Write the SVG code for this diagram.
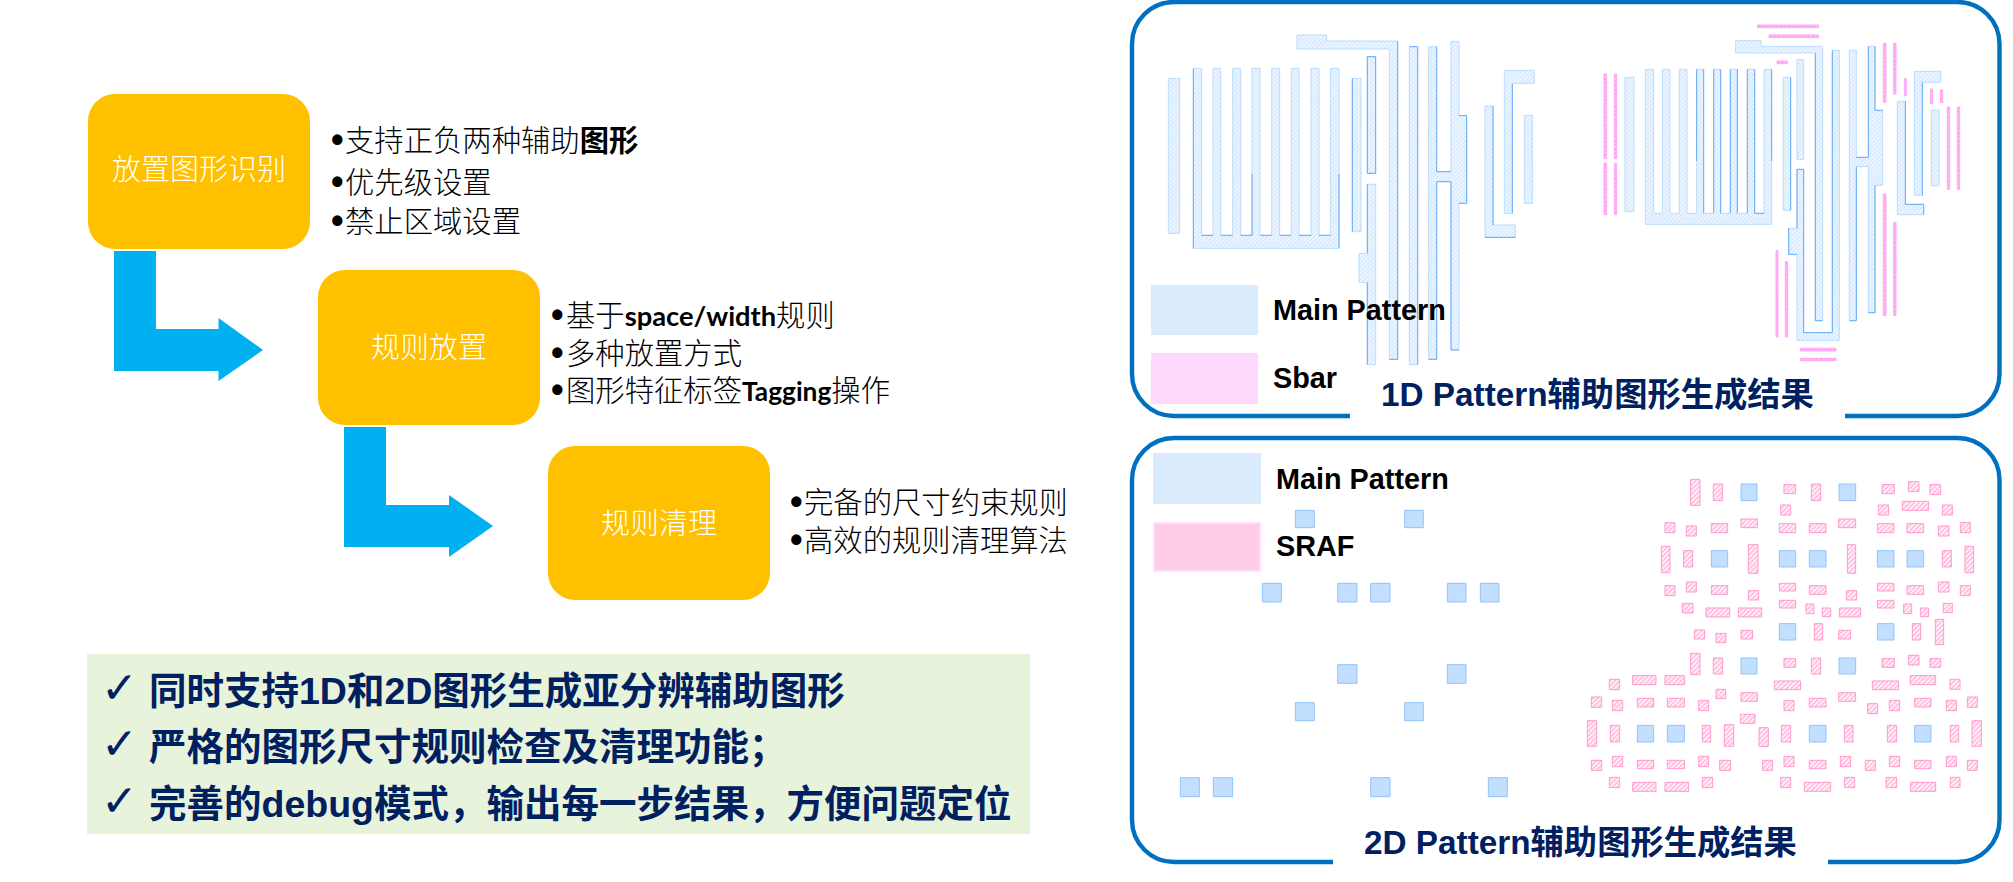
<svg xmlns="http://www.w3.org/2000/svg" width="2013" height="882" viewBox="0 0 2013 882">
<style>
.box{fill:#FFC000}
.lbl{font:300 29px "Noto Sans CJK SC","Noto Sans",sans-serif;fill:#fff;text-anchor:middle}
.li{font:300 29.33px "Noto Sans CJK SC","Noto Sans",sans-serif;fill:#000}
.li .bt{font:700 36px "Liberation Sans",sans-serif}
.li .b{font-weight:700}
.li .lat{font:700 27.3px Lato,"Liberation Sans",sans-serif}
.li .lat2{font:700 26.3px Lato,"Liberation Sans",sans-serif}
.arrow{fill:#00B0F0}
.sum{font:700 37.5px "Liberation Sans","Noto Sans CJK SC",sans-serif;fill:#002060}
.chk{font:400 44px "DejaVu Sans",sans-serif;fill:#002060}
.panel{fill:none;stroke:#0070C0;stroke-width:4.4}
.gap{fill:#fff}
.ttl{font:700 33.3px "Liberation Sans","Noto Sans CJK SC",sans-serif;fill:#002060}
.leg{font:700 28.8px "Liberation Sans",sans-serif;fill:#000}
.m{fill:url(#hb);stroke:#BBDCFD;stroke-width:3}
.ms{fill:url(#hs);stroke:#8FC5FB;stroke-width:3}
.sb{fill:url(#hm);stroke:#FFA8F4;stroke-width:3}
.sr{fill:url(#hp);stroke:#FF9ACB;stroke-width:3}
.dk{fill:none;stroke:#66AEF7;stroke-width:3}
</style>
<defs>
<pattern id="hb" width="9" height="9" patternUnits="userSpaceOnUse" patternTransform="rotate(-45)"><rect width="9" height="9" fill="#F2F8FF"/><rect width="9" height="4" fill="#CFE6FF"/></pattern>
<pattern id="hs" width="6" height="6" patternUnits="userSpaceOnUse" patternTransform="rotate(-45)"><rect width="6" height="6" fill="#C9E3FF"/><rect width="6" height="2" fill="#B5D8FF"/></pattern>
<pattern id="hm" width="9" height="9" patternUnits="userSpaceOnUse" patternTransform="rotate(-45)"><rect width="9" height="9" fill="#FFC8F8"/><rect width="9" height="4" fill="#FF90F0"/></pattern>
<pattern id="hp" width="10" height="10" patternUnits="userSpaceOnUse" patternTransform="rotate(-45)"><rect width="10" height="10" fill="#FFF0F8"/><rect width="10" height="4" fill="#FFB4DC"/></pattern>
</defs>

<g id="connectors">
<path class="arrow" d="M114 251H156V329H218.500V318L263 350L218.500 381V371H114Z"/>
<path class="arrow" d="M344 427H386V505H449V495L493 526L449 557V547H344Z"/>
</g>

<g id="node-identify">
<rect class="box" x="88" y="94" width="222" height="155" rx="27"/>
<text class="lbl" x="199" y="180">放置图形识别</text>
<text class="li" y="151"><tspan class="bt" x="331" y="152">•</tspan><tspan x="345" y="151">支持正负两种辅助</tspan><tspan class="b">图形</tspan></text>
<text class="li"><tspan class="bt" x="331" y="194">•</tspan><tspan x="345" y="193">优先级设置</tspan></text>
<text class="li"><tspan class="bt" x="331" y="233">•</tspan><tspan x="345" y="232">禁止区域设置</tspan></text>
</g>

<g id="node-place">
<rect class="box" x="318" y="270" width="222" height="155" rx="27"/>
<text class="lbl" x="429" y="358">规则放置</text>
<text class="li"><tspan class="bt" x="551" y="327">•</tspan><tspan x="566" y="326">基于</tspan><tspan class="lat">space/width</tspan><tspan>规则</tspan></text>
<text class="li"><tspan class="bt" x="551" y="365">•</tspan><tspan x="566" y="364">多种放置方式</tspan></text>
<text class="li"><tspan class="bt" x="551" y="402">•</tspan><tspan x="566" y="401">图形特征标签</tspan><tspan class="lat2">Tagging</tspan><tspan>操作</tspan></text>
</g>

<g id="node-clean">
<rect class="box" x="548" y="446" width="222" height="154" rx="27"/>
<text class="lbl" x="659" y="534">规则清理</text>
<text class="li"><tspan class="bt" x="790" y="514">•</tspan><tspan x="804" y="513">完备的尺寸约束规则</tspan></text>
<text class="li"><tspan class="bt" x="790" y="552">•</tspan><tspan x="804" y="551">高效的规则清理算法</tspan></text>
</g>

<g id="summary">
<rect x="87" y="654" width="943" height="180" fill="#E8F3DC"/>
<text class="chk" x="101" y="703">✓</text>
<text class="chk" x="101" y="759">✓</text>
<text class="chk" x="101" y="816">✓</text>
<text class="sum" x="149" y="704">同时支持1D和2D图形生成亚分辨辅助图形</text>
<text class="sum" x="149" y="760">严格的图形尺寸规则检查及清理功能；</text>
<text class="sum" x="149" y="817">完善的debug模式，输出每一步结果，方便问题定位</text>
</g>

<g id="panel-1d">
<rect class="panel" x="1132" y="2" width="867.500" height="414" rx="42"/>
<rect class="gap" x="1350" y="408" width="495" height="12"/>
<g id="main-1d-a" transform="translate(1130,0) scale(0.33333)">
<path class="m" d="M115 235H149V700H115Z"/>
<path class="m" d="M190 205H215V706H249V205H272V706H308V205H332V706H366V205H390V706H425V205H449V706H484V205H507V706H543V205H567V706H602V205H627V745H190Z"/>
<path class="m" d="M667 235H693V695H667Z"/>
<path class="m" d="M712 170H737V520H712Z"/>
<path class="m" d="M712 553H737V1094H712V848H687V760H712Z"/>
<path class="m" d="M501 105H590V123H803V1078H778V147H501Z"/>
<path class="m" d="M838 140H863V1094H838Z"/>
<path class="m" d="M896 140H920V515H963V124H987V347H1010V610H987V1050H963V545H920V1078H896Z"/>
<path class="m" d="M1065 318H1089V675H1156V712H1065Z"/>
<path class="m" d="M1123 211H1213V250H1147V640H1123Z"/>
<path class="m" d="M1183 346H1207V610H1183Z"/>
<path class="dk" d="M712 170H737V520H712ZM712 553V760M712 848V1094M803 123V1078H778M838 140H863M863 140V1094M920 140V515H963M920 545H963V1050H987M920 545V1078H896M987 347H1010V610H987M1089 318V675M1147 250V640M190 205V745M215 706H249M272 706H308M332 706H366V522M390 706H425M449 706H484M507 706H543M567 706H602M627 522V745M667 235V695M1065 712H1156"/>
</g>
<g id="main-1d-b" transform="translate(1560,0) scale(0.33333)">
<path class="m" d="M195 232H222V635H195Z"/>
<path class="m" d="M256 208H281V640H307V208H330V640H358V208H381V640H410V208H431V640H461V208H482V640H511V208H532V640H562V208H584V640H612V208H635V673H256Z"/>
<path class="m" d="M670 232H692V631H670Z"/>
<path class="m" d="M711 178H731V479H711Z"/>
<path class="m" d="M711 508H731V998H817V151H838V1021H711V763H686V685H711Z"/>
<path class="m" d="M527 122H604V139H788V962H766V159H527Z"/>
<path class="m" d="M868 151H889V472H925V139H945V331H968V556H945V938H925V500H889V962H868Z"/>
<path class="m" d="M1012 304H1036V613H1091V644H1012Z"/>
<path class="m" d="M1063 214H1142V247H1087V586H1063Z"/>
<path class="m" d="M1114 331H1137V557H1114Z"/>
<path class="dk" d="M731 508V998H817V151M686 685V763H711M711 685V508H731M766 159V962H788M889 500V962H868M925 139V472H889M945 139V331H968M945 556V938H925M1036 304V613H1091V644M1087 247V586M410 208V483M431 208V640M461 640V208M482 208V640M511 208V640M532 208V640M562 208V640M584 208V640M612 640H584M635 208V483M692 232V631"/>
<path class="sb" d="M132 222H140V476H132ZM163 222H170V476H163ZM132 489H140V644H132ZM163 489H170V644H163ZM592 75H776V83H592ZM627 105H776V113H627ZM651 183H682V191H651ZM970 130H978V307H970ZM1001 130H1008V282H1001ZM1033 236H1039V287H1033ZM1111 267H1118V311H1111ZM1141 270H1148V308H1141ZM1162 321H1169V568H1162ZM1192 321H1199V568H1192ZM970 582H978V947H970ZM1001 667H1008V947H1001ZM648 752H654V1011H648ZM676 785H683V1011H676ZM721 1045H828V1053H721ZM721 1075H828V1082H721Z"/>
</g>
<rect x="1151" y="285" width="107" height="50" fill="#DAEBFE"/>
<rect x="1151" y="353" width="107" height="51" fill="#FDD9FD"/>
<text class="leg" x="1273" y="320">Main Pattern</text>
<text class="leg" x="1273" y="388">Sbar</text>
<text class="ttl" x="1381" y="406">1D Pattern辅助图形生成结果</text>
</g>

<g id="panel-2d">
<rect class="panel" x="1132" y="438" width="867.500" height="424" rx="42"/>
<rect class="gap" x="1333" y="854" width="495" height="12"/>
<g id="main-2d-a" transform="translate(1130,430) scale(0.33333)">
<path class="ms" d="M496 241H553V293H496ZM824 241H880V293H824ZM397 460H454V516H397ZM623 460H681V516H623ZM722 460H780V516H722ZM952 460H1008V516H952ZM1051 460H1107V516H1051ZM623 704H681V760H623ZM952 704H1008V760H952ZM496 818H553V872H496ZM824 818H880V872H824ZM151 1043H208V1100H151ZM250 1043H308V1100H250ZM722 1043H780V1100H722ZM1075 1043H1132V1100H1075Z"/>
</g>
<g id="pattern-2d-b" transform="translate(1560,460) scale(0.33333)">
<path class="ms" d="M543 72H591V122H543ZM837 72H887V122H837ZM454 272H503V321H454ZM658 272H707V321H658ZM748 272H798V321H748ZM952 272H1002V321H952ZM1041 272H1091V321H1041ZM658 491H707V540H658ZM952 491H1002V540H952ZM543 594H591V642H543ZM837 594H887V642H837Z"/>
<path class="sr" d="M392 58H420V136H392ZM460 72H488V122H460ZM672 74H707V101H672ZM754 72H782V122H754ZM966 74H1003V101H966ZM1045 65H1077V95H1045ZM1110 74H1142V104H1110ZM662 135H692V165H662ZM955 135H986V165H955ZM1027 124H1106V151H1027ZM1147 135H1177V165H1147ZM315 188H345V218H315ZM379 198H409V228H379ZM454 191H503V218H454ZM543 177H592V203H543ZM658 191H707V218H658ZM748 191H798V218H748ZM836 177H887V203H836ZM952 191H1002V218H952ZM1041 191H1091V218H1041ZM1135 198H1167V228H1135ZM1201 188H1231V218H1201ZM304 259H330V338H304ZM371 272H398V321H371ZM565 254H594V340H565ZM862 254H887V340H862ZM1147 272H1174V321H1147ZM1215 259H1241V338H1215ZM315 377H345V407H315ZM379 366H409V396H379ZM454 377H503V403H454ZM565 392H596V420H565ZM658 370H707V393H658ZM748 377H798V403H748ZM859 392H890V420H859ZM952 370H1002V393H952ZM1041 377H1091V403H1041ZM1135 366H1167V396H1135ZM1201 377H1231V407H1201ZM367 430H399V459H367ZM438 444H509V471H438ZM535 444H605V471H535ZM658 421H707V444H658ZM738 432H762V461H738ZM787 444H812V470H787ZM838 444H902V471H838ZM952 421H1002V444H952ZM1031 432H1055V461H1031ZM1081 444H1106V470H1081ZM1150 430H1177V458H1150ZM403 510H434V537H403ZM468 520H498V548H468ZM543 511H578V537H543ZM763 491H788V540H763ZM836 511H872V537H836ZM1057 491H1082V540H1057ZM1126 478H1151V554H1126ZM392 580H420V644H392ZM460 594H488V642H460ZM672 596H707V622H672ZM754 594H782V642H754ZM966 596H1003V622H966ZM1045 586H1077V615H1045ZM1110 596H1142V622H1110Z"/>
</g>
<g id="pattern-2d-c" transform="translate(1560,650) scale(0.33333)">
<path class="ms" d="M232 226H281V276H232ZM322 226H373V276H322ZM748 226H798V276H748ZM1064 226H1113V276H1064Z"/>
<path class="sr" d="M148 88H179V119H148ZM218 77H288V104H218ZM315 77H374V104H315ZM643 93H722V119H643ZM937 93H1016V119H937ZM1051 77H1127V104H1051ZM1170 88H1200V118H1170ZM94 141H125V172H94ZM157 151H188V182H157ZM232 145H281V171H232ZM322 145H373V171H322ZM416 151H446V182H416ZM468 118H497V146H468ZM543 128H592V154H543ZM672 151H702V182H672ZM748 145H798V171H748ZM836 128H887V154H836ZM923 161H953V191H923ZM988 151H1019V182H988ZM1064 145H1113V171H1064ZM1159 151H1189V182H1159ZM1222 141H1252V172H1222ZM541 193H585V220H541ZM82 212H110V289H82ZM151 226H179V276H151ZM427 226H452V276H427ZM493 224H521V289H493ZM597 233H625V290H597ZM664 226H692V276H664ZM853 226H879V276H853ZM982 226H1010V276H982ZM1171 226H1196V276H1171ZM1236 212H1264V289H1236ZM94 331H125V361H94ZM157 319H188V350H157ZM232 331H281V356H232ZM322 331H373V356H322ZM416 319H446V350H416ZM479 331H512V361H479ZM608 331H638V361H608ZM672 319H702V350H672ZM748 331H798V356H748ZM841 319H872V350H841ZM916 331H946V361H916ZM988 319H1019V350H988ZM1064 331H1113V356H1064ZM1159 319H1189V350H1159ZM1222 331H1252V361H1222ZM148 382H179V413H148ZM218 397H288V424H218ZM315 397H386V424H315ZM427 382H458V413H427ZM662 382H692V413H662ZM733 397H812V424H733ZM853 382H884V413H853ZM978 382H1010V413H978ZM1051 397H1127V424H1051ZM1171 382H1200V413H1171Z"/>
</g>
<rect x="1153" y="453" width="108" height="51" fill="#DAEBFE"/>
<rect x="1154" y="523" width="106" height="48" fill="#FFCCE6" stroke="#FFDDFB" stroke-width="2"/>
<text class="leg" x="1276" y="489">Main Pattern</text>
<text class="leg" x="1276" y="556">SRAF</text>
<text class="ttl" x="1364" y="854">2D Pattern辅助图形生成结果</text>
</g>
</svg>
